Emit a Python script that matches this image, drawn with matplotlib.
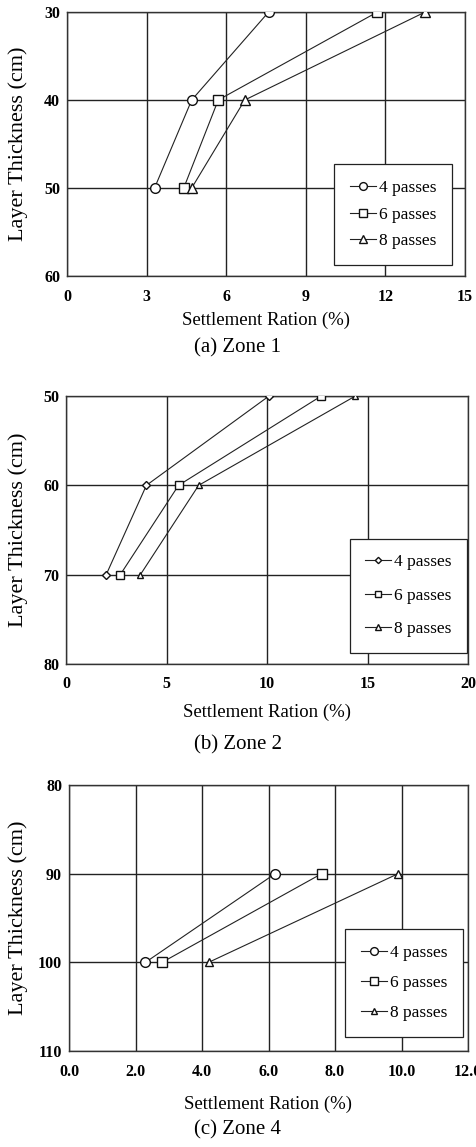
import matplotlib
matplotlib.use("Agg")
import matplotlib.pyplot as plt

plt.rcParams['font.family'] = ['Liberation Serif', 'DejaVu Serif']

# Zone 1
z1_thick = [30, 40, 50]
z1_p4 = [7.6, 4.7, 3.3]
z1_p6 = [11.7, 5.7, 4.4]
z1_p8 = [13.5, 6.7, 4.7]
z1_xticks = [0, 3, 6, 9, 12, 15]
z1_yticks = [30, 40, 50, 60]

# Zone 2
z2_thick = [50, 60, 70]
z2_p4 = [10.1, 4.0, 2.0]
z2_p6 = [12.7, 5.6, 2.7]
z2_p8 = [14.4, 6.6, 3.7]
z2_xticks = [0, 5, 10, 15, 20]
z2_yticks = [50, 60, 70, 80]

# Zone 4
z4_thick = [90, 100]
z4_p4 = [6.2, 2.3]
z4_p6 = [7.6, 2.8]
z4_p8 = [9.9, 4.2]
z4_xticks = [0.0, 2.0, 4.0, 6.0, 8.0, 10.0, 12.0]
z4_yticks = [80, 90, 100, 110]

labels = ['4 passes', '6 passes', '8 passes']

W, H = 476, 1147
fig = plt.figure(figsize=(W / 100, H / 100), dpi=100)

def px_axes(l, t, r, b):
    return fig.add_axes([l / W, 1 - b / H, (r - l) / W, (b - t) / H])

panels = [
    dict(box=(67, 12, 465, 276), thick=z1_thick, series=[z1_p4, z1_p6, z1_p8],
         markers=['o', 's', '^'], ms=[7, 7, 7], xt=z1_xticks, yt=z1_yticks, xfmt='{:g}',
         leg_anchor=(0.967, 0.042), leg_space=0.6, caption='(a) Zone 1', cap_y=348, xl_y=320),
    dict(box=(66, 396, 468, 664), thick=z2_thick, series=[z2_p4, z2_p6, z2_p8],
         markers=['D', 's', '^'], ms=[4, 6, 5], xt=z2_xticks, yt=z2_yticks, xfmt='{:g}',
         leg_anchor=(0.998, 0.041), leg_space=1.0, caption='(b) Zone 2', cap_y=745, xl_y=712),
    dict(box=(69, 785, 468, 1051), thick=z4_thick, series=[z4_p4, z4_p6, z4_p8],
         markers=['o', 's', '^'], ms=[7, 7, 6], xt=z4_xticks, yt=z4_yticks, xfmt='{:.1f}',
         leg_anchor=(0.987, 0.053), leg_space=0.8, caption='(c) Zone 4', cap_y=1130, xl_y=1104),
]

for p in panels:
    l, t, r, b = p['box']
    ax = px_axes(l, t, r, b)
    for vals, m, s, lab in zip(p['series'], p['markers'], p['ms'], labels):
        ax.plot(vals, p['thick'], color='#222222', lw=0.8, marker=m, ms=s,
                mfc='white', mec='#111111', mew=1.0, label=lab, zorder=3)
    ax.set_xlim(p['xt'][0], p['xt'][-1])
    ax.set_ylim(p['yt'][-1], p['yt'][0])
    ax.set_xticks(p['xt'])
    ax.set_xticklabels([p['xfmt'].format(v) for v in p['xt']], fontweight='bold', fontsize=11.5)
    ax.set_yticks(p['yt'])
    ax.set_yticklabels([str(v) for v in p['yt']], fontweight='bold', fontsize=11.5)
    ax.tick_params(axis='x', length=0, pad=9)
    ax.tick_params(axis='y', length=0, pad=5)
    ax.grid(True, color='#222222', lw=1.0)
    ax.set_axisbelow(True)
    for sp in ax.spines.values():
        sp.set_color('#333333')
        sp.set_linewidth(1.0)
    leg = ax.legend(loc='lower right', bbox_to_anchor=p['leg_anchor'], fancybox=False,
                    edgecolor='#222222', framealpha=1, handlelength=1.5, handletextpad=0.15,
                    labelspacing=p['leg_space'], borderpad=0.9, prop={'size': 12.5},
                    markerscale=0.8, borderaxespad=0)
    leg.get_frame().set_linewidth(0.9)
    ax.set_ylabel('Layer Thickness (cm)', fontsize=16)
    ax.yaxis.set_label_coords(-(l - 28) / (r - l), 0.5)
    fig.text((l + r) / 2 / W, 1 - p['xl_y'] / H, 'Settlement Ration (%)', ha='center',
             va='center', fontsize=13.5)
    fig.text(0.5, 1 - p['cap_y'] / H, p['caption'], ha='center', va='center', fontsize=15)

fig.savefig('out.png', dpi=100)
